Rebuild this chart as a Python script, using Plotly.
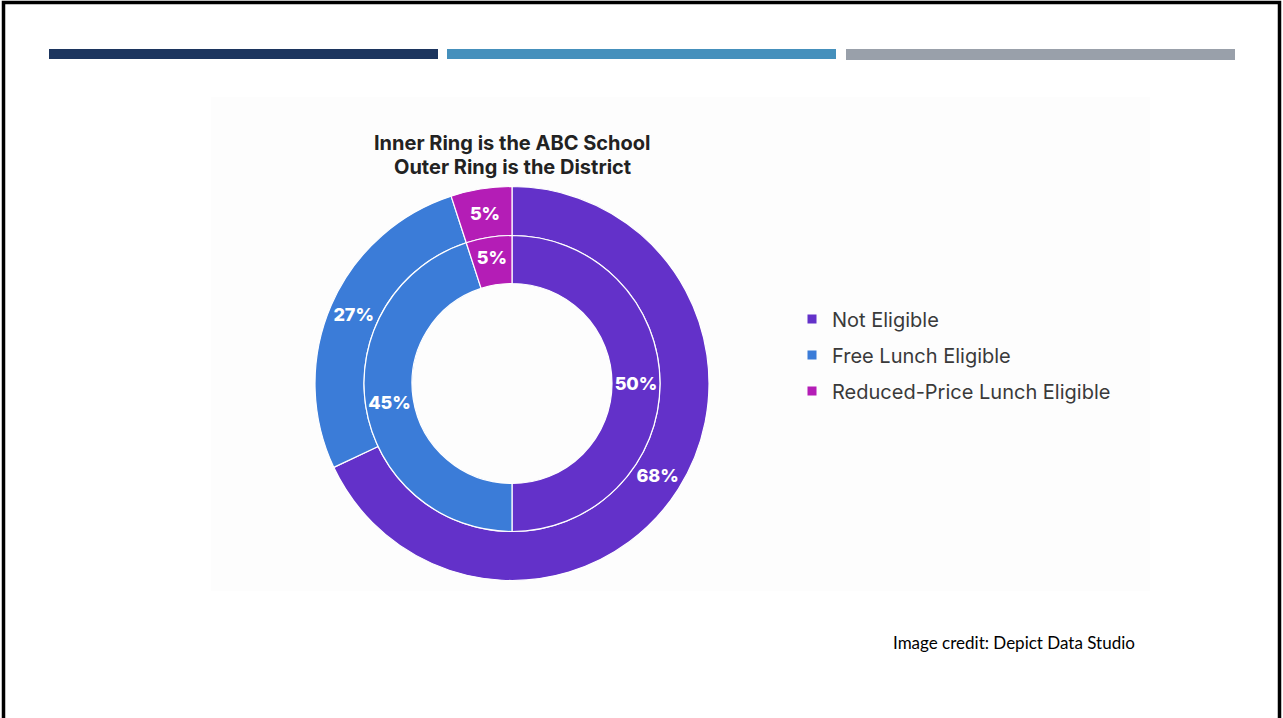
import plotly.graph_objects as go

W, H = 1283, 718

categories = ["Not Eligible", "Free Lunch Eligible", "Reduced-Price Lunch Eligible"]
district_pct = [68, 27, 5]   # outer ring
school_pct = [50, 45, 5]     # inner ring
colors = ["#6331C9", "#3B7CD8", "#B41DB6"]

title_lines = ["Inner Ring is the ABC School", "Outer Ring is the District"]
credit = "Image credit: Depict Data Studio"


def px(x):
    return x / W


def py(y):
    return 1 - y / H


cx, cy = 512, 383.5
r_out, r_mid, r_in = 197, 148, 100

label_font = dict(family="Inter", size=18, color="white", weight=800)

fig = go.Figure()

fig.add_trace(go.Pie(
    labels=categories, values=district_pct, sort=False, direction="clockwise", rotation=0,
    hole=r_mid / r_out,
    domain=dict(x=[px(cx - r_out), px(cx + r_out)], y=[py(cy + r_out), py(cy - r_out)]),
    marker=dict(colors=colors, line=dict(color="white", width=1.2)),
    texttemplate="%{value}%", textposition="inside", insidetextorientation="horizontal",
    textfont=label_font,
    showlegend=False, hoverinfo="label+value",
))

fig.add_trace(go.Pie(
    labels=categories, values=school_pct, sort=False, direction="clockwise", rotation=0,
    hole=r_in / r_mid,
    domain=dict(x=[px(cx - r_mid), px(cx + r_mid)], y=[py(cy + r_mid), py(cy - r_mid)]),
    marker=dict(colors=colors, line=dict(color="white", width=1.2)),
    texttemplate="%{value}%", textposition="inside", insidetextorientation="horizontal",
    textfont=label_font,
    showlegend=False, hoverinfo="label+value",
))

# legend entries
for i, (cat, col) in enumerate(zip(categories, colors)):
    fig.add_trace(go.Scatter(
        x=[None], y=[None], mode="markers", name=cat, legendgroup=f"g{i}",
        marker=dict(symbol="square", size=9, color=col),
        showlegend=True,
    ))

shapes = [
    # slide border
    dict(type="rect", xref="paper", yref="paper", x0=px(3.5), x1=px(1279.5), y0=py(740), y1=py(2.5),
         line=dict(color="black", width=3.5), fillcolor="rgba(0,0,0,0)", layer="above"),
    # image background
    dict(type="rect", xref="paper", yref="paper", x0=px(211), x1=px(1150), y0=py(591), y1=py(97),
         line=dict(width=0), fillcolor="#fdfdfd", layer="below"),
    # header bars
    dict(type="rect", xref="paper", yref="paper", x0=px(49), x1=px(438), y0=py(59), y1=py(49),
         line=dict(width=0), fillcolor="#1C355E", layer="below"),
    dict(type="rect", xref="paper", yref="paper", x0=px(447), x1=px(836), y0=py(59), y1=py(49),
         line=dict(width=0), fillcolor="#4590BC", layer="below"),
    dict(type="rect", xref="paper", yref="paper", x0=px(846), x1=px(1235), y0=py(60), y1=py(49),
         line=dict(width=0), fillcolor="#99A0AA", layer="below"),
]

annotations = [
    dict(text="<b>" + title_lines[0] + "</b>", x=px(512), y=py(143), xref="paper", yref="paper",
         showarrow=False, xanchor="center", yanchor="middle",
         font=dict(family="Inter", size=20, color="#222222", weight=800)),
    dict(text="<b>" + title_lines[1] + "</b>", x=px(512), y=py(167), xref="paper", yref="paper",
         showarrow=False, xanchor="center", yanchor="middle",
         font=dict(family="Inter", size=20, color="#222222", weight=800)),
    dict(text=credit, x=px(891), y=py(642), xref="paper", yref="paper",
         showarrow=False, xanchor="left", yanchor="middle",
         font=dict(family="Gill Sans, Lato", size=17, color="black")),
]

fig.update_layout(
    width=W, height=H, margin=dict(l=0, r=0, t=0, b=0),
    paper_bgcolor="white", plot_bgcolor="rgba(0,0,0,0)",
    xaxis=dict(visible=False), yaxis=dict(visible=False),
    shapes=shapes, annotations=annotations,
    legend=dict(x=px(792), y=py(355), xanchor="left", yanchor="middle",
                font=dict(family="Inter", size=20, color="#3a3a3a"),
                tracegroupgap=7, traceorder="grouped", itemwidth=30,
                bgcolor="rgba(0,0,0,0)"),
)

fig.write_html("out.html")
